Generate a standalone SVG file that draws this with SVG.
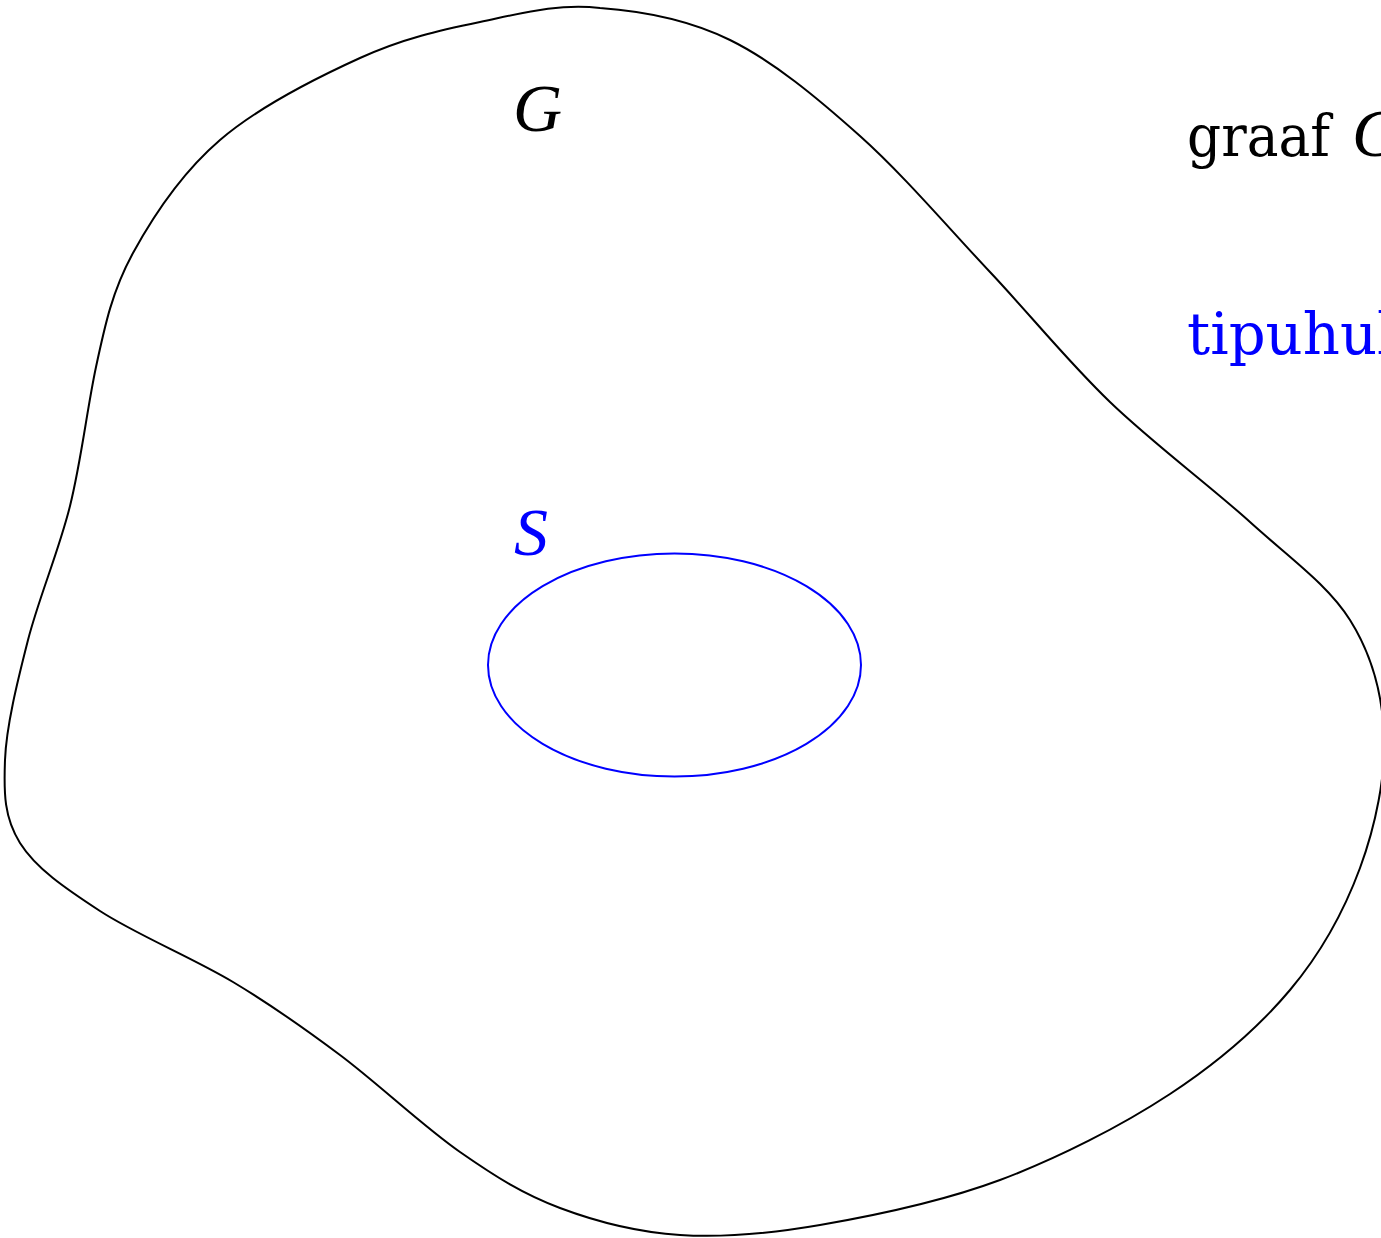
<svg xmlns="http://www.w3.org/2000/svg" width="1381" height="1238" viewBox="0 0 1381 1238">
<style>
.blob{fill:none;stroke:#000;stroke-width:2}
.set{fill:none;stroke:#0000ff;stroke-width:2}
.lbl{font-family:"DejaVu Serif","Liberation Serif",serif;font-size:58px}
.math{font-family:"Liberation Serif",serif;font-style:italic;font-size:68px}
</style>
<rect width="1381" height="1238" fill="#fff"/>
<g id="graph-G">
<path class="blob" d="M600,8 C641.7,11 686.7,18.7 730,40 C773.3,61.3 816.7,97.3 860,136 C903.3,174.7 948.3,227.7 990,272 C1031.7,316.3 1066.7,360.3 1110,402 C1153.3,443.7 1210,485.7 1250,522 C1290,558.3 1327.7,584.5 1350,620 C1372.3,655.5 1382.3,693.7 1384,735 C1385.7,776.3 1375.7,825.5 1360,868 C1344.3,910.5 1321.7,952.3 1290,990 C1258.3,1027.7 1218.3,1062.3 1170,1094 C1121.7,1125.7 1058.3,1158.2 1000,1180 C941.7,1201.8 873.3,1215.8 820,1225 C766.7,1234.2 723.3,1237.8 680,1235 C636.7,1232.2 596.7,1221.8 560,1208 C523.3,1194.2 496.7,1177.5 460,1152 C423.3,1126.5 377.8,1083.3 340,1055 C302.2,1026.7 273,1006 233,982 C193,958 135.5,934.2 100,911 C64.5,887.8 35.8,868.2 20,843 C4.2,817.8 3.7,793.8 5,760 C6.3,726.2 17.2,682.3 28,640 C38.8,597.7 58.7,551.5 70,506 C81.3,460.5 87,409.2 96,367 C105,324.8 112.3,290.8 133,253 C153.7,215.2 182.2,172.5 220,140 C257.8,107.5 316.7,77.7 360,58 C403.3,38.3 440,30.3 480,22 C520,13.7 558.3,3 600,8 Z"/>
<text class="math" x="513" y="131">G</text>
</g>
<g id="set-S">
<ellipse class="set" cx="674.5" cy="665" rx="186.5" ry="111.5"/>
<text class="math" x="514" y="555" fill="#0000ff">S</text>
</g>
<g id="legend">
<text class="lbl" transform="translate(1187,156) scale(0.92,1)">graaf</text>
<text class="math" x="1352" y="156">G</text>
<text class="lbl" transform="translate(1187,354) scale(0.995,1)" fill="#0000ff">tipuhulk</text>
</g>
<g id="connectors"/>
</svg>
